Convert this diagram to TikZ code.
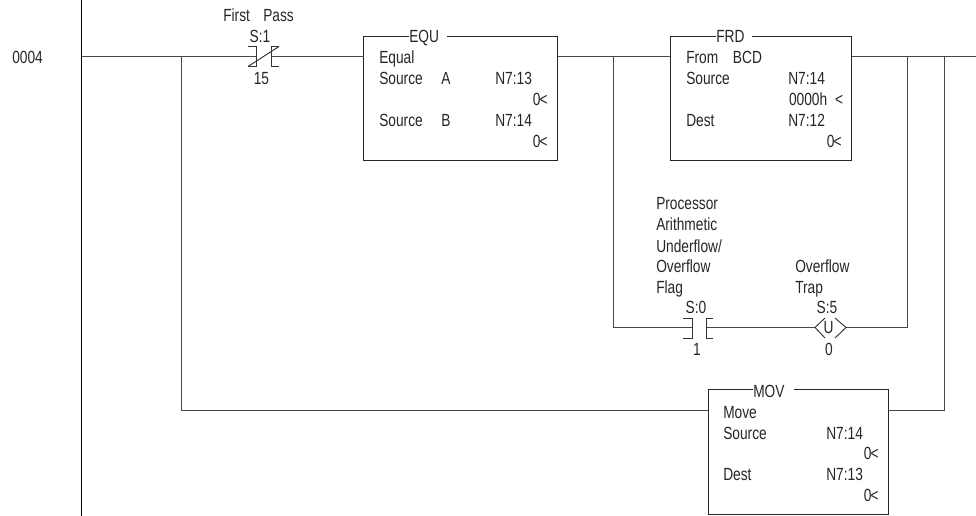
\documentclass[tikz,border=0pt]{standalone}
\usepackage{fontspec}
\setmainfont[FakeStretch=0.78]{Liberation Sans}
\tikzset{
  x=0.75pt,y=-0.75pt,
  wire/.style={draw=black!72,line width=0.75pt},
  rail/.style={draw=black,line width=0.75pt},
  boxb/.style={draw=black!85,line width=0.75pt,fill=white,rectangle,inner sep=0pt,outer sep=0pt,anchor=north west},
  lab/.style={inner sep=0pt,anchor=base west,font=\fontsize{13.2pt}{15pt}\selectfont,text=black!85},
  labr/.style={lab,anchor=base east},
  labc/.style={lab,anchor=base},
  ttl/.style={lab,fill=white,anchor=base west},
  sym/.style={draw=black!80,line width=0.7pt},
}
\newcommand{\ltn}{0\hspace{-0.6pt}<}
\begin{document}
\begin{tikzpicture}
\useasboundingbox (0,0) rectangle (976,516);
% rail
\coordinate (railT) at (81.5,0);
\coordinate (railB) at (81.5,516);
\draw[rail] (railT) -- (railB);
\node[lab] (rung) at (12,63.5) {0004};
% boxes
\node[boxb,minimum width=145.5pt,minimum height=93pt] (equ) at (363.5,36.5) {};
\node[boxb,minimum width=135.75pt,minimum height=93pt] (frd) at (670.5,36.5) {};
\node[boxb,minimum width=135pt,minimum height=93.75pt] (mov) at (708,390) {};
\node[ttl] (equT) at (409,42.5) {\makebox[28.5pt][l]{EQU}};
\node[ttl] (frdT) at (716,42.5) {\makebox[27pt][l]{FRD}};
\node[ttl] (movT) at (753,397.5) {\makebox[30.75pt][l]{MOV}};
% junctions
\coordinate (cA) at (256,56.5);
\coordinate (cB) at (271,56.5);
\coordinate (c1start) at (81.5,56.5);
\coordinate (j1) at (181.5,56.5);
\coordinate (j2) at (613.5,56.5);
\coordinate (j3) at (907.5,56.5);
\coordinate (j4) at (944.5,56.5);
\coordinate (rEnd) at (976,56.5);
\coordinate (d1) at (181.5,410.5);
\coordinate (d4) at (944.5,410.5);
\coordinate (b2) at (613.5,327.5);
\coordinate (b3) at (907.5,327.5);
\coordinate (c2A) at (692,327.5);
\coordinate (c2B) at (706,327.5);
\coordinate (coilL) at (815,327.5);
\coordinate (coilR) at (846,327.5);
\draw[wire] (c1start) -- (j1) -- (cA);
\draw[wire] (cB) -- (equ.west |- cB);
\draw[wire] (equ.east |- j2) -- (j2);
\draw[wire] (j2) -- (frd.west |- j2);
\draw[wire] (frd.east |- j3) -- (j3) -- (j4) -- (rEnd);
\draw[wire] (j1) -- (d1) -- (mov.west |- d1);
\draw[wire] (mov.east |- d4) -- (d4) -- (j4);
\draw[wire] (j2) -- (b2) -- (c2A);
\draw[wire] (c2B) -- (coilL);
\draw[wire] (coilR) -- (b3) -- (j3);
% contact 1 symbol
\draw[sym] (248,46.5) -- (256,46.5) -- (256,66.5) -- (248,66.5);
\draw[sym] (279,46.5) -- (271,46.5) -- (271,66.5) -- (279,66.5);
\draw[sym] (248,66.5) -- (279,46.5);
% contact 2 symbol
\draw[sym] (683,318) -- (692,318) -- (692,338) -- (683,338);
\draw[sym] (713,318) -- (706,318) -- (706,338) -- (713,338);
% coil
\draw[sym] (825,318) -- (815,327.5) -- (825,338);
\draw[sym] (835,318) -- (846,327.5) -- (835,338);
% labels rung top
\node[lab] (fp) at (223,21.5) {First\hspace{10pt}Pass};
\node[labc] (s1) at (260,42.5) {S:1};
\node[labc] (n15) at (261.5,84.5) {15};
% EQU text
\node[lab] (e1) at (379,63.5) {Equal};
\node[lab] (e2) at (379,84.5) {Source};
\node[lab] (e2b) at (441,84.5) {A};
\node[lab] (e2c) at (495,84.5) {N7:13};
\node[labr] (e3) at (548,105.5) {\ltn};
\node[lab] (e4) at (379,126.5) {Source};
\node[lab] (e4b) at (441,126.5) {B};
\node[lab] (e4c) at (495,126.5) {N7:14};
\node[labr] (e5) at (548,147.5) {\ltn};
% FRD text
\node[lab] (f1) at (686,63.5) {From\hspace{11pt}BCD};
\node[lab] (f2) at (686,84.5) {Source};
\node[lab] (f2c) at (788,84.5) {N7:14};
\node[labr] (f3) at (843.5,105.5) {0000h\hspace{6pt}<};
\node[lab] (f4) at (686,126.5) {Dest};
\node[lab] (f4c) at (788,126.5) {N7:12};
\node[labr] (f5) at (842,147.5) {\ltn};
% branch text
\node[lab] (p1) at (656,209.5) {Processor};
\node[lab] (p2) at (656,230.5) {Arithmetic};
\node[lab] (p3) at (656,252.5) {Underflow/};
\node[lab] (p4) at (656,272.5) {Overflow};
\node[lab] (p5) at (656,293.5) {Flag};
\node[labc] (s0) at (696,313.5) {S:0};
\node[labc] (n1) at (697,355.5) {1};
\node[lab] (o1) at (795,272.5) {Overflow};
\node[lab] (o2) at (795,293.5) {Trap};
\node[labc] (s5) at (827,313.5) {S:5};
\node[labc] (uu) at (828.5,334) {U};
\node[labc] (n0) at (829,355.5) {0};
% MOV text
\node[lab] (m1) at (723,418.5) {Move};
\node[lab] (m2) at (723,439.5) {Source};
\node[lab] (m2c) at (826,439.5) {N7:14};
\node[labr] (m3) at (879,459.5) {\ltn};
\node[lab] (m4) at (723,480.5) {Dest};
\node[lab] (m4c) at (826,480.5) {N7:13};
\node[labr] (m5) at (879,501.5) {\ltn};
\end{tikzpicture}
\end{document}
